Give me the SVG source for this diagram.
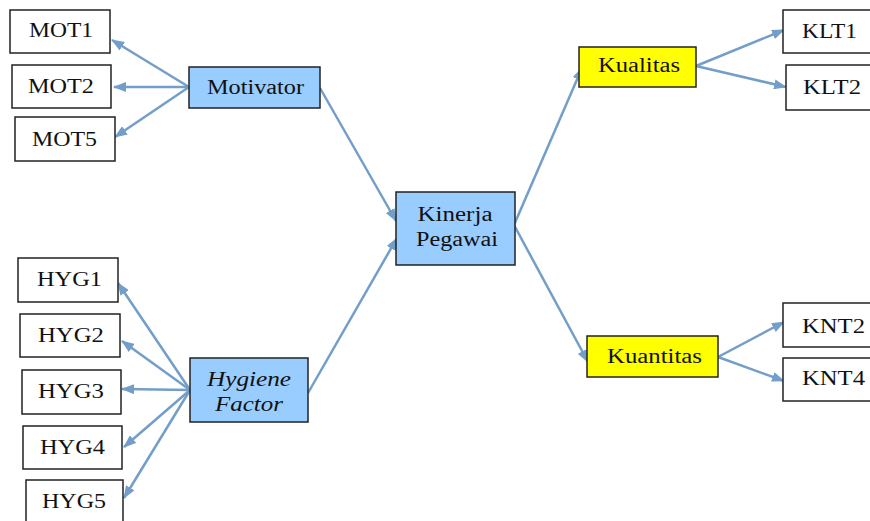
<svg xmlns="http://www.w3.org/2000/svg" width="870" height="521" viewBox="0 0 870 521">
<style>
.b{fill:#ffffff;stroke:#222222;stroke-width:1.5}
.blue{fill:#99ccff;stroke:#222222;stroke-width:1.5}
.yel{fill:#ffff00;stroke:#222222;stroke-width:1.5}
text{font-family:"Liberation Serif","Times New Roman",serif;font-size:20px;fill:#111111;text-anchor:middle}
.it{font-style:italic}
.c line{stroke:#729ec9;stroke-width:2.5;marker-end:url(#ah)}
</style>
<defs>
<marker id="ah" markerUnits="userSpaceOnUse" markerWidth="13" markerHeight="10" refX="12" refY="5" orient="auto">
<path d="M0,0 L13,5 L0,10 z" fill="#729ec9"/>
</marker>
</defs>
<rect width="870" height="521" fill="#ffffff"/>
<g class="c">
<line x1="189" y1="87" x2="112" y2="40"/>
<line x1="189" y1="87" x2="114" y2="87"/>
<line x1="189" y1="87" x2="115" y2="137"/>
<line x1="320" y1="88" x2="396" y2="221"/>
<line x1="190" y1="390" x2="118" y2="283"/>
<line x1="190" y1="390" x2="122" y2="341"/>
<line x1="190" y1="390" x2="122" y2="389"/>
<line x1="190" y1="390" x2="124" y2="447"/>
<line x1="190" y1="390" x2="124" y2="498"/>
<line x1="308" y1="393" x2="397" y2="238"/>
<line x1="514" y1="225" x2="582" y2="68"/>
<line x1="514" y1="225" x2="588" y2="362"/>
<line x1="696" y1="66" x2="784" y2="30"/>
<line x1="696" y1="66" x2="786" y2="87"/>
<line x1="718" y1="357" x2="784" y2="322"/>
<line x1="718" y1="357" x2="784" y2="381"/>
</g>
<g id="MOT1"><rect class="b" x="10" y="10" width="100" height="43"/><text x="61" y="37" textLength="64" lengthAdjust="spacingAndGlyphs">MOT1</text></g>
<g id="MOT2"><rect class="b" x="12" y="65" width="99" height="43"/><text x="61" y="93" textLength="66" lengthAdjust="spacingAndGlyphs">MOT2</text></g>
<g id="MOT5"><rect class="b" x="15" y="117" width="100" height="44"/><text x="64.5" y="146" textLength="65" lengthAdjust="spacingAndGlyphs">MOT5</text></g>
<g id="Motivator"><rect class="blue" x="189" y="67" width="131" height="41"/><text x="255.5" y="94" textLength="97" lengthAdjust="spacingAndGlyphs">Motivator</text></g>
<g id="HYG1"><rect class="b" x="18" y="258" width="100" height="44"/><text x="69.5" y="286" textLength="65" lengthAdjust="spacingAndGlyphs">HYG1</text></g>
<g id="HYG2"><rect class="b" x="20" y="314" width="100" height="43"/><text x="71" y="342" textLength="66" lengthAdjust="spacingAndGlyphs">HYG2</text></g>
<g id="HYG3"><rect class="b" x="22" y="370" width="99" height="44"/><text x="71" y="398" textLength="66" lengthAdjust="spacingAndGlyphs">HYG3</text></g>
<g id="HYG4"><rect class="b" x="23" y="426" width="99" height="43"/><text x="72.5" y="454" textLength="65" lengthAdjust="spacingAndGlyphs">HYG4</text></g>
<g id="HYG5"><rect class="b" x="26" y="480" width="97" height="45"/><text x="74" y="508" textLength="64" lengthAdjust="spacingAndGlyphs">HYG5</text></g>
<g id="HygieneFactor"><rect class="blue" x="190" y="358" width="118" height="64"/><text class="it" x="249" y="386" textLength="84" lengthAdjust="spacingAndGlyphs">Hygiene</text><text class="it" x="249" y="411" textLength="68" lengthAdjust="spacingAndGlyphs">Factor</text></g>
<g id="KinerjaPegawai"><rect class="blue" x="396" y="192" width="119" height="73"/><text x="455" y="221" textLength="75" lengthAdjust="spacingAndGlyphs">Kinerja</text><text x="457" y="246" textLength="82" lengthAdjust="spacingAndGlyphs">Pegawai</text></g>
<g id="Kualitas"><rect class="yel" x="579" y="47" width="117" height="40"/><text x="639" y="72" textLength="82" lengthAdjust="spacingAndGlyphs">Kualitas</text></g>
<g id="Kuantitas"><rect class="yel" x="587" y="336" width="131" height="41"/><text x="654.5" y="363" textLength="95" lengthAdjust="spacingAndGlyphs">Kuantitas</text></g>
<g id="KLT1"><rect class="b" x="783" y="10" width="92" height="43"/><text x="829.5" y="38" textLength="55" lengthAdjust="spacingAndGlyphs">KLT1</text></g>
<g id="KLT2"><rect class="b" x="786" y="65" width="89" height="45"/><text x="832" y="94" textLength="58" lengthAdjust="spacingAndGlyphs">KLT2</text></g>
<g id="KNT2"><rect class="b" x="783" y="303" width="92" height="44"/><text x="833.5" y="333" textLength="63" lengthAdjust="spacingAndGlyphs">KNT2</text></g>
<g id="KNT4"><rect class="b" x="783" y="358" width="92" height="43"/><text x="833.5" y="385" textLength="63" lengthAdjust="spacingAndGlyphs">KNT4</text></g>
</svg>
